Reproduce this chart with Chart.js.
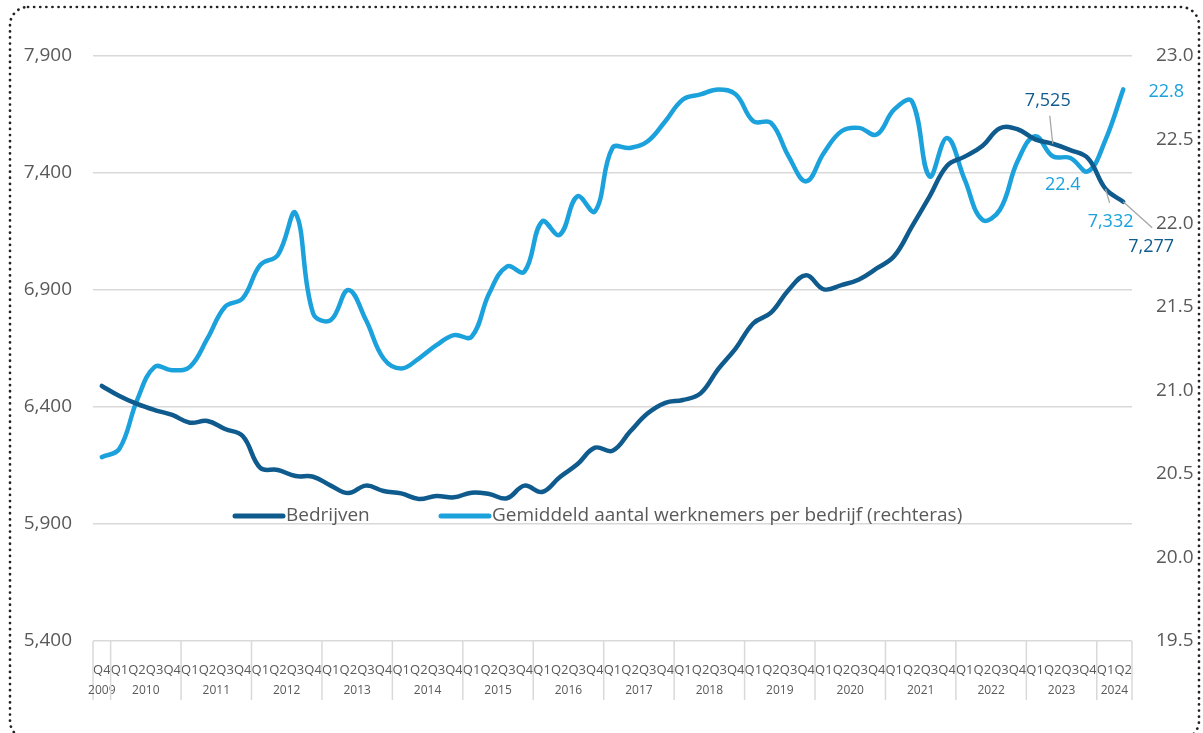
<!DOCTYPE html>
<html>
<head>
<meta charset="utf-8">
<script src="https://cdn.jsdelivr.net/npm/chart.js@4/dist/chart.umd.min.js"></script>
<style>
  html, body { margin: 0; padding: 0; background: #fff; }
  #wrap { width: 1203px; height: 733px; position: relative; }
</style>
</head>
<body>
<div id="wrap"><canvas id="chart" width="1203" height="733"></canvas></div>
<script>
// categories (quarters Q4 2009 .. Q2 2024)
const quarterLabels = [
  "Q4",
  "Q1","Q2","Q3","Q4", "Q1","Q2","Q3","Q4", "Q1","Q2","Q3","Q4", "Q1","Q2","Q3","Q4",
  "Q1","Q2","Q3","Q4", "Q1","Q2","Q3","Q4", "Q1","Q2","Q3","Q4", "Q1","Q2","Q3","Q4",
  "Q1","Q2","Q3","Q4", "Q1","Q2","Q3","Q4", "Q1","Q2","Q3","Q4", "Q1","Q2","Q3","Q4",
  "Q1","Q2","Q3","Q4", "Q1","Q2","Q3","Q4",
  "Q1","Q2"
];
const yearLabels = ["2009","2010","2011","2012","2013","2014","2015","2016",
  "2017","2018","2019","2020","2021","2022","2023","2024"];
const quartersPerYear = [1,4,4,4,4,4,4,4,4,4,4,4,4,4,4,2];

// Bedrijven (left axis)
const bedrijven = [
  6490, 6447, 6413, 6387, 6366, 6333, 6340, 6306, 6276, 6140,
  6131, 6105, 6102, 6064, 6032, 6064, 6041, 6031, 6007, 6020,
  6014, 6034, 6028, 6010, 6064, 6037, 6100, 6155, 6226, 6213,
  6295, 6373, 6418, 6430, 6458, 6562, 6651, 6758, 6803, 6900,
  6963, 6903, 6921, 6945, 6992, 7045, 7171, 7299, 7431, 7470,
  7515, 7591, 7587, 7544, 7525, 7498, 7463, 7332, 7277
];
// Gemiddeld aantal werknemers per bedrijf (right axis)
const werknemers = [
  20.60, 20.65, 20.94, 21.14, 21.12, 21.14, 21.31, 21.50, 21.55, 21.75,
  21.81, 22.06, 21.46, 21.42, 21.60, 21.42, 21.19, 21.13, 21.19, 21.27,
  21.33, 21.32, 21.58, 21.74, 21.71, 22.01, 21.93, 22.16, 22.07, 22.45,
  22.45, 22.49, 22.61, 22.74, 22.77, 22.80, 22.77, 22.61, 22.60, 22.40,
  22.25, 22.42, 22.55, 22.57, 22.53, 22.68, 22.73, 22.28, 22.51, 22.26,
  22.02, 22.08, 22.37, 22.52, 22.40, 22.39, 22.31, 22.50, 22.80
];

const DARK = "#0f5b8e";
const LIGHT = "#1ba1dc";
const GREY = "#595959";
const FONT = "'Open Sans', sans-serif";

// value labels: dataset, index, text, colour, text offset, leader start offset
const callouts = [
  { ds: 0, i: 54, text: "7,525", color: DARK,  dx: -5, dy: -43, lx: -3, ly: -28 },
  { ds: 1, i: 54, text: "22.4",  color: LIGHT, dx: 10, dy: 29 },
  { ds: 0, i: 57, text: "7,332", color: LIGHT, dx: 5,  dy: 33, lx: 4, ly: 14 },
  { ds: 0, i: 58, text: "7,277", color: DARK,  dx: 28, dy: 45, lx: 29, ly: 26 },
  { ds: 1, i: 58, text: "22.8",  color: LIGHT, dx: 43, dy: 2 }
];

// dotted rounded frame around the whole figure
const framePlugin = {
  id: "frame",
  beforeDraw(chart) {
    const ctx = chart.ctx;
    ctx.save();
    ctx.strokeStyle = "#222";
    ctx.lineWidth = 2.7;
    ctx.lineCap = "round";
    ctx.setLineDash([0.1, 6]);
    ctx.beginPath();
    ctx.roundRect(10, 7, 1189, 732, 18);
    ctx.stroke();
    ctx.restore();
  }
};

// second row of x labels (years) with separators
const yearAxisPlugin = {
  id: "yearAxis",
  afterDraw(chart) {
    const ctx = chart.ctx;
    const x = chart.scales.x;
    const bottom = chart.chartArea.bottom;
    const half = (x.getPixelForValue(1) - x.getPixelForValue(0)) / 2;
    ctx.save();
    ctx.strokeStyle = "#d9d9d9";
    ctx.lineWidth = 1.5;
    ctx.fillStyle = GREY;
    ctx.font = "12px " + FONT;
    ctx.textAlign = "center";
    ctx.textBaseline = "middle";
    let start = 0;
    quartersPerYear.forEach((n, k) => {
      const left = x.getPixelForValue(start) - half;
      const right = x.getPixelForValue(start + n - 1) + half;
      ctx.beginPath();
      ctx.moveTo(left, bottom);
      ctx.lineTo(left, bottom + 59);
      if (k === quartersPerYear.length - 1) {
        ctx.moveTo(right, bottom);
        ctx.lineTo(right, bottom + 59);
      }
      ctx.stroke();
      ctx.fillText(yearLabels[k], (left + right) / 2, bottom + 50);
      start += n;
    });
    ctx.restore();
  }
};

// legend inside the plot
const legendPlugin = {
  id: "innerLegend",
  afterDraw(chart) {
    const ctx = chart.ctx;
    const y = chart.chartArea.top + 460;
    const items = [{ x: 235 }, { x: 441 }];
    ctx.save();
    ctx.font = "19px " + FONT;
    ctx.textBaseline = "middle";
    ctx.fillStyle = GREY;
    chart.data.datasets.forEach((ds, k) => {
      const x0 = items[k].x;
      ctx.strokeStyle = ds.borderColor;
      ctx.lineWidth = 5;
      ctx.lineCap = "round";
      ctx.beginPath();
      ctx.moveTo(x0, y);
      ctx.lineTo(x0 + 48, y);
      ctx.stroke();
      ctx.fillText(ds.label, x0 + 51, y);
    });
    ctx.restore();
  }
};

const calloutPlugin = {
  id: "callouts",
  afterDatasetsDraw(chart) {
    const ctx = chart.ctx;
    ctx.save();
    ctx.font = "18px " + FONT;
    ctx.textAlign = "center";
    ctx.textBaseline = "middle";
    callouts.forEach(c => {
      const pt = chart.getDatasetMeta(c.ds).data[c.i];
      if (c.lx !== undefined) {
        ctx.strokeStyle = "#a6a6a6";
        ctx.lineWidth = 1.3;
        ctx.beginPath();
        ctx.moveTo(pt.x + c.lx, pt.y + c.ly);
        ctx.lineTo(pt.x, pt.y);
        ctx.stroke();
      }
      ctx.fillStyle = c.color;
      ctx.fillText(c.text, pt.x + c.dx, pt.y + c.dy);
    });
    ctx.restore();
  }
};

new Chart(document.getElementById("chart"), {
  type: "line",
  data: {
    labels: quarterLabels,
    datasets: [
      {
        label: "Bedrijven",
        data: bedrijven,
        yAxisID: "y",
        borderColor: DARK,
        borderWidth: 4.5,
        borderCapStyle: "round",
        tension: 0.4,
        pointRadius: 0
      },
      {
        label: "Gemiddeld aantal werknemers per bedrijf (rechteras)",
        data: werknemers,
        yAxisID: "y1",
        borderColor: LIGHT,
        borderWidth: 4.5,
        borderCapStyle: "round",
        tension: 0.4,
        pointRadius: 0
      }
    ]
  },
  options: {
    responsive: false,
    animation: false,
    layout: { padding: { top: 56, left: 0, right: 0, bottom: 0 } },
    plugins: {
      legend: { display: false },
      tooltip: { enabled: false }
    },
    scales: {
      x: {
        offset: true,
        grid: { display: false },
        border: { display: false },
        ticks: {
          autoSkip: false,
          maxRotation: 0,
          minRotation: 0,
          padding: 13,
          color: GREY,
          font: { family: FONT, size: 13 }
        },
        afterFit(s) { s.height = 92; }
      },
      y: {
        position: "left",
        min: 5400,
        max: 7900,
        grid: { color: "#d9d9d9", lineWidth: 1.5, drawTicks: false },
        border: { display: false },
        ticks: {
          stepSize: 500,
          padding: 21,
          color: GREY,
          font: { family: FONT, size: 19 },
          callback: v => v.toLocaleString("en-US")
        },
        afterFit(s) { s.width = 93; }
      },
      y1: {
        position: "right",
        min: 19.5,
        max: 23,
        grid: { display: false, drawTicks: false },
        border: { display: false },
        ticks: {
          stepSize: 0.5,
          padding: 24,
          color: GREY,
          font: { family: FONT, size: 19 },
          callback: v => v.toFixed(1)
        },
        afterFit(s) { s.width = 71; }
      }
    }
  },
  plugins: [framePlugin, yearAxisPlugin, legendPlugin, calloutPlugin]
});
</script>
</body>
</html>
